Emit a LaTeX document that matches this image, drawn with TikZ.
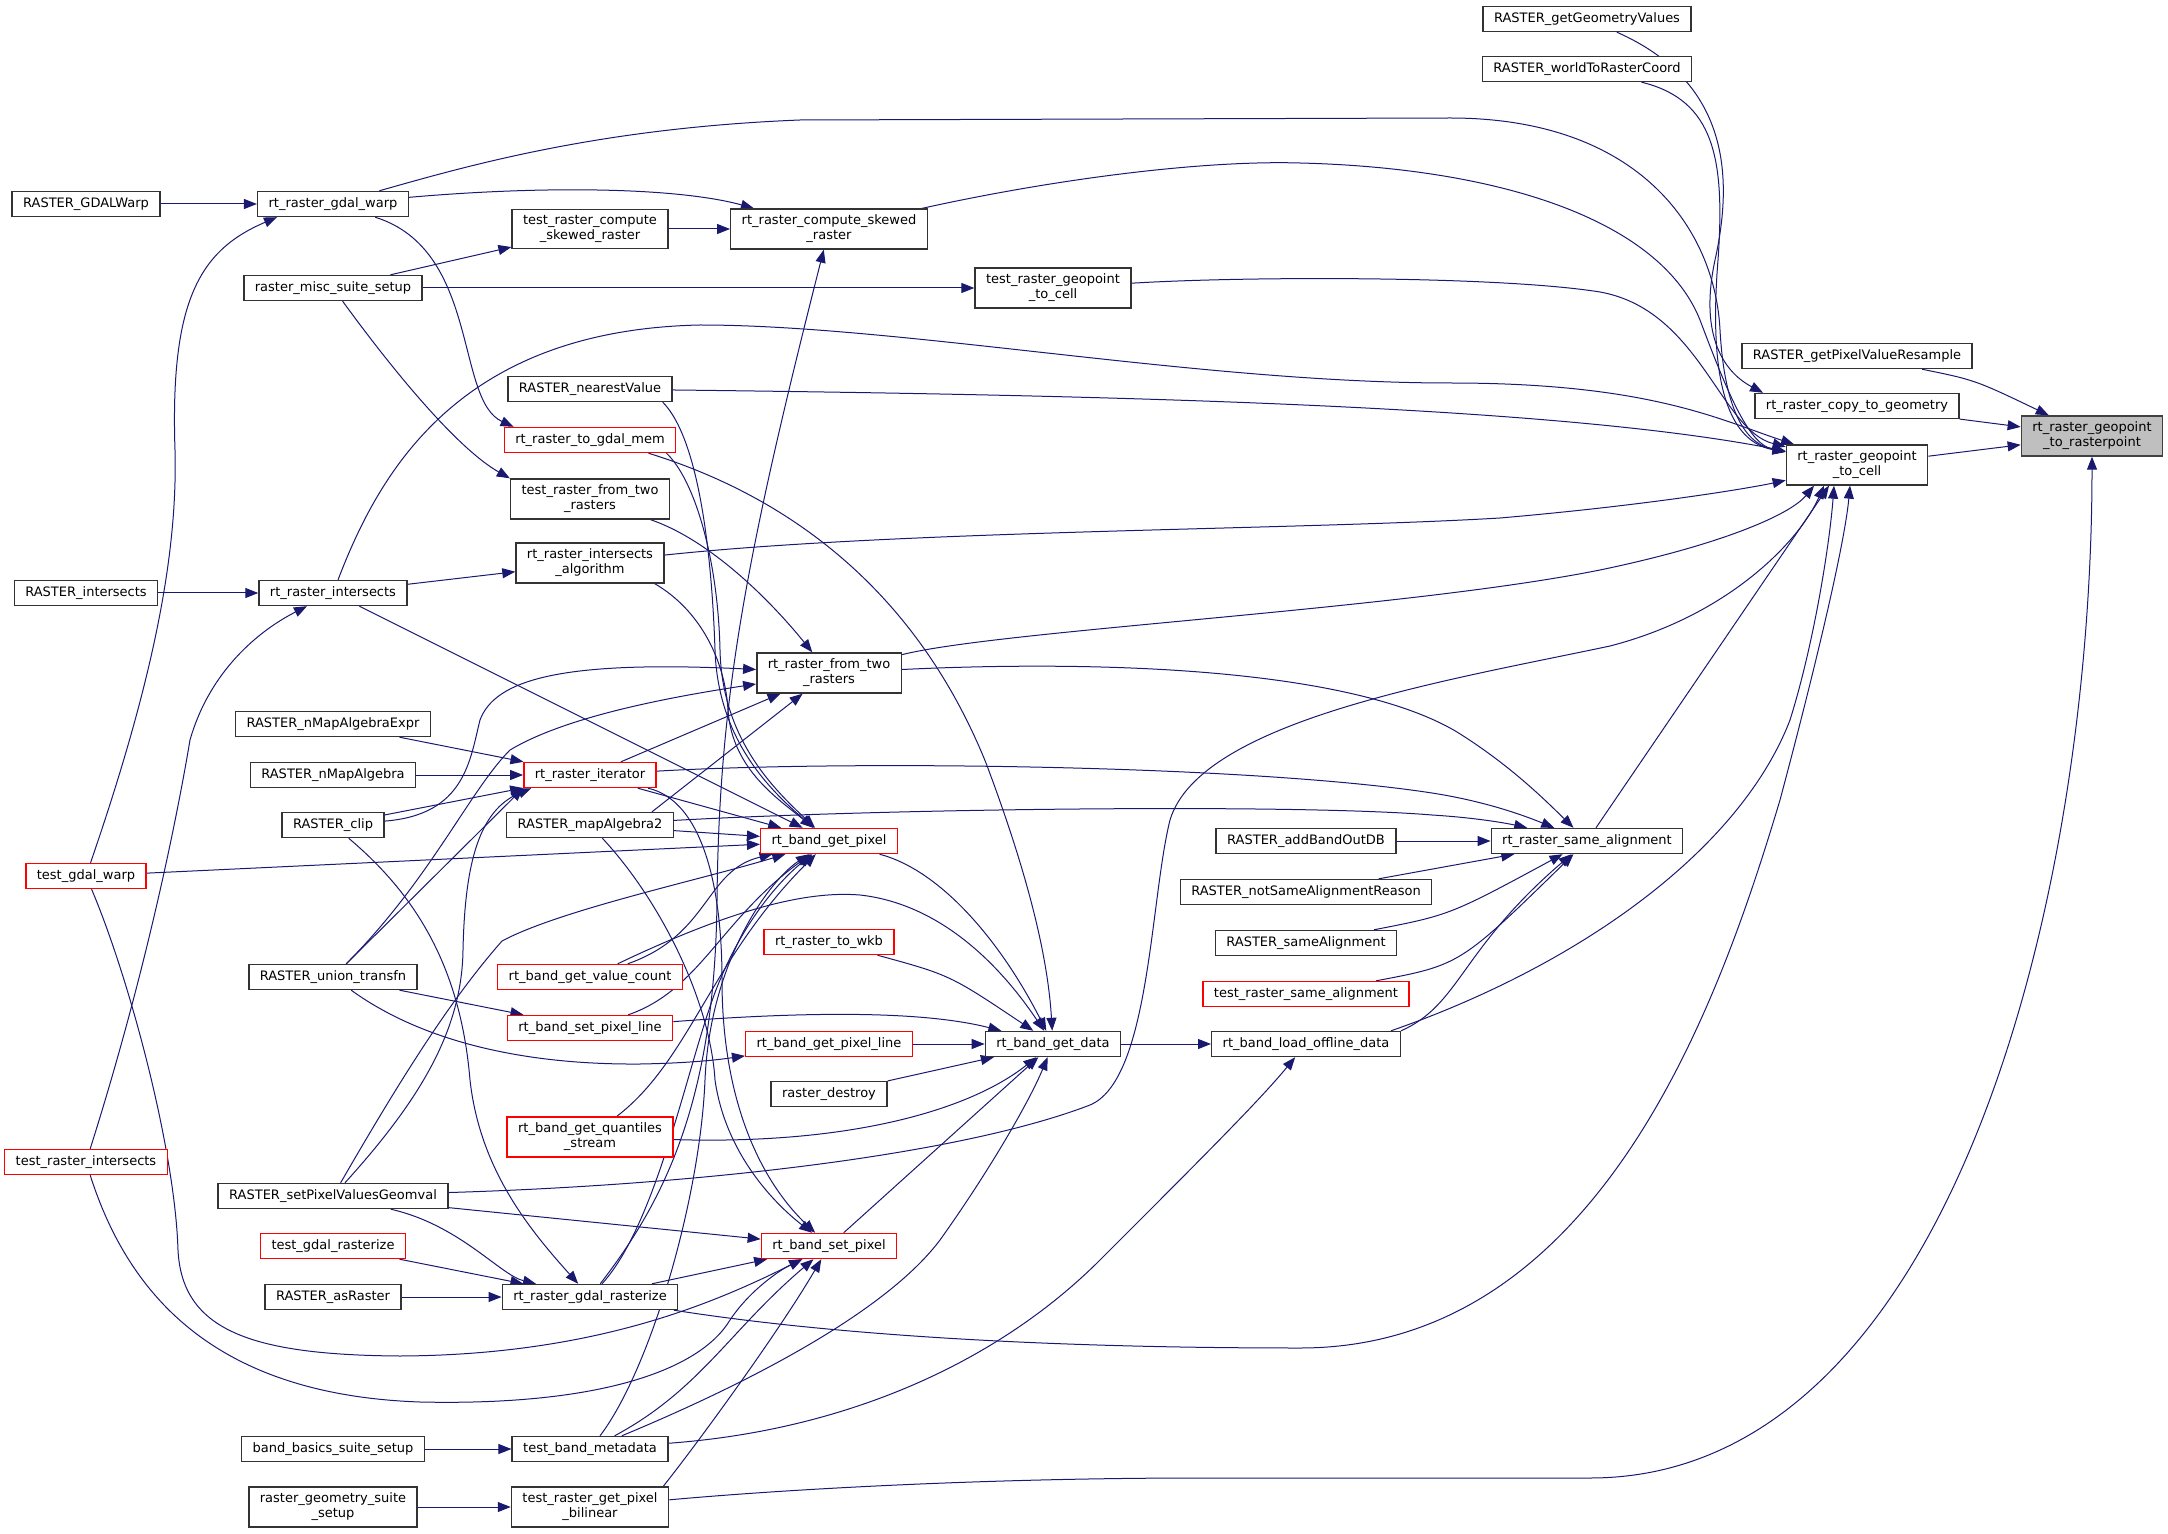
\documentclass[tikz,border=0pt]{standalone}
\usepackage{fontspec}
\setmainfont{DejaVu Sans}
\usepackage{tikz}
\usetikzlibrary{arrows.meta,backgrounds}
\definecolor{edgeblue}{RGB}{25,25,112}
\definecolor{selgray}{RGB}{191,191,191}

\begin{document}
\begin{tikzpicture}[x=0.5pt,y=-0.5pt,
    fn/.style={draw=black!80, line width=0.7pt, fill=white, font=\fontsize{6.5}{7.5}\selectfont,
      align=center, minimum height=12.5pt, inner xsep=5.5pt, inner ysep=3pt},
    fnred/.style={fn, draw=red},
    fnsel/.style={fn, fill=selgray, draw=black!75},
    call/.style={draw=edgeblue, line width=0.5pt, -{Triangle[length=6.5pt,width=5pt]}}]
\useasboundingbox (0,0) rectangle (2168,1534);

% column 1
\node[fn] (rwarpext) at (86,204) {RASTER\_GDALWarp};
\node[fn] (rinters) at (86,593) {RASTER\_intersects};
\node[fnred] (tgdalwarp) at (86,876) {test\_gdal\_warp};
\node[fnred] (trinters) at (86,1162) {test\_raster\_intersects};
% column 2
\node[fn] (gdalwarp) at (333,204) {rt\_raster\_gdal\_warp};
\node[fn] (miscsetup) at (333,288) {raster\_misc\_suite\_setup};
\node[fn] (intersects) at (333,593) {rt\_raster\_intersects};
\node[fn] (nmaexpr) at (333,724) {RASTER\_nMapAlgebraExpr};
\node[fn] (nma) at (333,775) {RASTER\_nMapAlgebra};
\node[fn] (clip) at (333,825) {RASTER\_clip};
\node[fn] (union) at (333,977) {RASTER\_union\_transfn};
\node[fn] (setgeomval) at (333,1196) {RASTER\_setPixelValuesGeomval};
\node[fnred] (tgdalrast) at (333,1246) {test\_gdal\_rasterize};
\node[fn] (asraster) at (333,1297) {RASTER\_asRaster};
\node[fn] (bbsetup) at (333,1449) {band\_basics\_suite\_setup};
\node[fn] (geomsetup) at (333,1507) {raster\_geometry\_suite\\\_setup};
% column 3
\node[fn] (tskewed) at (590,229) {test\_raster\_compute\\\_skewed\_raster};
\node[fn] (nearest) at (590,389) {RASTER\_nearestValue};
\node[fnred] (togdalmem) at (590,440) {rt\_raster\_to\_gdal\_mem};
\node[fn] (tfromtwo) at (590,499) {test\_raster\_from\_two\\\_rasters};
\node[fn] (intalgo) at (590,563) {rt\_raster\_intersects\\\_algorithm};
\node[fnred] (iterator) at (590,775) {rt\_raster\_iterator};
\node[fn] (mapalg2) at (590,825) {RASTER\_mapAlgebra2};
\node[fnred] (valuecount) at (590,977) {rt\_band\_get\_value\_count};
\node[fnred] (setpixline) at (590,1028) {rt\_band\_set\_pixel\_line};
\node[fnred] (quantiles) at (590,1137) {rt\_band\_get\_quantiles\\\_stream};
\node[fn] (gdalrast) at (590,1297) {rt\_raster\_gdal\_rasterize};
\node[fn] (tbandmeta) at (590,1449) {test\_band\_metadata};
\node[fn] (tbilinear) at (590,1507) {test\_raster\_get\_pixel\\\_bilinear};
% column 4
\node[fn] (skewed) at (829,229) {rt\_raster\_compute\_skewed\\\_raster};
\node[fn] (fromtwo) at (829,673) {rt\_raster\_from\_two\\\_rasters};
\node[fnred] (getpixel) at (829,841) {rt\_band\_get\_pixel};
\node[fnred] (towkb) at (829,942) {rt\_raster\_to\_wkb};
\node[fnred] (getpixline) at (829,1044) {rt\_band\_get\_pixel\_line};
\node[fn] (rdestroy) at (829,1094) {raster\_destroy};
\node[fnred] (setpixel) at (829,1246) {rt\_band\_set\_pixel};
% column 5
\node[fn] (tgeocell) at (1053,288) {test\_raster\_geopoint\\\_to\_cell};
\node[fn] (getdata) at (1053,1044) {rt\_band\_get\_data};
% column 6
\node[fn] (addband) at (1306,841) {RASTER\_addBandOutDB};
\node[fn] (notsame) at (1306,892) {RASTER\_notSameAlignmentReason};
\node[fn] (samealign) at (1306,943) {RASTER\_sameAlignment};
\node[fnred] (tsamealign) at (1306,994) {test\_raster\_same\_alignment};
\node[fn] (offline) at (1306,1044) {rt\_band\_load\_offline\_data};
% column 7
\node[fn] (geomvalues) at (1587,19) {RASTER\_getGeometryValues};
\node[fn] (world) at (1587,69) {RASTER\_worldToRasterCoord};
\node[fn] (sameal) at (1587,841) {rt\_raster\_same\_alignment};
% column 8
\node[fn] (resample) at (1857,356) {RASTER\_getPixelValueResample};
\node[fn] (copygeom) at (1857,406) {rt\_raster\_copy\_to\_geometry};
\node[fn] (geocell) at (1857,465) {rt\_raster\_geopoint\\\_to\_cell};
% column 9
\node[fnsel] (rasterpoint) at (2092,436) {rt\_raster\_geopoint\\\_to\_rasterpoint};

\begin{scope}[on background layer]
% callers of rt_raster_geopoint_to_rasterpoint
\draw[call] (resample) .. controls (1975,380) .. (rasterpoint);
\draw[call] (copygeom) -- (rasterpoint);
\draw[call] (geocell) -- (rasterpoint);
\draw[call] (tbilinear) .. controls (800,1488) and (1000,1478) .. (1200,1478) -- (1590,1478) .. controls (1950,1478) and (2092,900) .. (rasterpoint);
% callers of rt_raster_geopoint_to_cell
\draw[call] (gdalwarp) .. controls (470,165) and (600,128) .. (800,120) -- (1450,118) .. controls (1640,118) and (1715,230) .. (1720,330) .. controls (1725,420) and (1750,445) .. (geocell);
\draw[call] (skewed) .. controls (1050,180) and (1200,160) .. (1300,163) .. controls (1500,168) and (1660,220) .. (1700,320) .. controls (1730,400) and (1750,445) .. (geocell);
\draw[call] (tgeocell) .. controls (1250,276) and (1500,276) .. (1600,292) .. controls (1700,310) and (1720,430) .. (geocell);
\draw[call] (intersects) .. controls (380,470) and (460,330) .. (700,325) .. controls (900,325) and (1200,383) .. (1450,383) .. controls (1650,383) and (1720,420) .. (geocell);
\draw[call] (nearest) .. controls (1100,395) and (1550,405) .. (geocell);
\draw[call] (world) .. controls (1715,100) and (1725,160) .. (1718,260) .. controls (1710,360) and (1720,440) .. (geocell);
\draw[call] (geomvalues) .. controls (1725,80) and (1735,170) .. (1715,260) .. controls (1700,330) and (1720,370) .. (copygeom.172);
\draw[call] (intalgo) .. controls (900,530) and (1300,530) .. (1500,518) .. controls (1650,505) and (1750,488) .. (geocell);
\draw[call] (fromtwo) .. controls (1000,630) and (1400,610) .. (1600,570) .. controls (1720,545) and (1790,515) .. ([xshift=-21.5pt]geocell.south);
\draw[call] (setgeomval) .. controls (700,1185) and (960,1155) .. (1090,1105) .. controls (1150,1080) and (1150,900) .. (1170,820) .. controls (1200,720) and (1450,680) .. (1610,646) .. controls (1730,615) and (1800,540) .. ([xshift=-16.5pt]geocell.south);
\draw[call] (sameal) -- ([xshift=-14pt]geocell.south);
\draw[call] ([xshift=-5pt]offline.north east) .. controls (1580,965) and (1740,850) .. (1790,720) .. controls (1815,640) and (1830,540) .. ([xshift=-11.5pt]geocell.south);
\draw[call] (gdalrast) .. controls (800,1330) and (1000,1348) .. (1300,1348) .. controls (1600,1348) and (1720,1000) .. (1780,800) .. controls (1820,650) and (1845,540) .. ([xshift=-3.5pt]geocell.south);
% callers of rt_raster_same_alignment
\draw[call] (fromtwo) .. controls (1100,660) and (1350,668) .. (1457,732) .. controls (1510,765) and (1545,800) .. (sameal);
\draw[call] (iterator) .. controls (850,760) and (1250,765) .. (1432,793) .. controls (1490,802) and (1530,818) .. (sameal);
\draw[call] (mapalg2) .. controls (900,808) and (1300,804) .. (1432,815) .. controls (1480,818) and (1510,824) .. (sameal);
\draw[call] (addband) -- (sameal);
\draw[call] (notsame) -- (sameal);
\draw[call] (samealign) .. controls (1450,915) .. (sameal);
\draw[call] (tsamealign) .. controls (1460,965) .. (sameal);
\draw[call] (offline.north east) .. controls (1460,1005) and (1460,950) .. (sameal);
% callers of rt_band_get_data
\draw[call] (getdata) -- (offline);
\draw[call] (getpixel) .. controls (940,870) and (1000,940) .. (getdata);
\draw[call] ([xshift=-14pt]togdalmem.south east) .. controls (800,500) and (920,600) .. (986,763) .. controls (1030,880) and (1048,960) .. (getdata);
\draw[call] (valuecount) .. controls (720,915) and (800,890) .. (860,895) .. controls (950,905) and (1010,980) .. (getdata);
\draw[call] (towkb) .. controls (950,975) .. (getdata);
\draw[call] (setpixline) .. controls (800,1012) and (920,1010) .. (getdata);
\draw[call] (getpixline) -- (getdata);
\draw[call] (rdestroy) -- (getdata);
\draw[call] (quantiles) .. controls (850,1145) and (970,1110) .. (getdata);
\draw[call] (setpixel) -- (getdata);
\draw[call] (tbandmeta) .. controls (720,1395) and (880,1320) .. (940,1240) .. controls (990,1170) and (1030,1100) .. (getdata);
% callers of rt_band_get_pixel
\draw[call] (intersects) -- (getpixel);
\draw[call] ([xshift=-5pt]nearest.south east) .. controls (700,440) and (712,560) .. (715,650) .. controls (718,740) and (770,790) .. (getpixel);
\draw[call] ([xshift=-5pt]togdalmem.south east) .. controls (695,480) and (718,560) .. (720,650) .. controls (722,740) and (775,790) .. (getpixel);
\draw[call] ([xshift=-5pt]intalgo.south east) .. controls (700,610) and (725,660) .. (728,710) .. controls (732,770) and (780,800) .. (getpixel);
\draw[call] (iterator) -- (getpixel);
\draw[call] (mapalg2) -- (getpixel);
\draw[call] (tgdalwarp) -- (getpixel);
\draw[call] (setgeomval) .. controls (400,1080) and (450,1000) .. (502,941) .. controls (560,910) and (700,880) .. (getpixel);
\draw[call] (valuecount) .. controls (710,935) and (705,870) .. (getpixel);
\draw[call] (setpixline) .. controls (700,990) and (720,920) .. (getpixel);
\draw[call] (quantiles) .. controls (690,1060) and (710,960) .. (getpixel);
\draw[call] (gdalrast) .. controls (660,1220) and (690,1050) .. (720,980) .. controls (745,920) and (780,880) .. (getpixel);
\draw[call] (tbandmeta) .. controls (650,1370) and (700,1200) .. (705,1080) .. controls (710,960) and (770,880) .. (getpixel);
% callers of rt_raster_compute_skewed_raster
\draw[call] (gdalwarp) .. controls (550,185) and (680,188) .. (skewed);
\draw[call] (tskewed) -- (skewed);
\draw[call] (gdalrast) .. controls (665,1200) and (715,1100) .. (717,900) .. controls (719,700) and (745,560) .. (skewed);
% callers of rt_raster_from_two_rasters
\draw[call] (clip) .. controls (465,815) and (470,760) .. (480,720) .. controls (495,680) and (560,660) .. (fromtwo);
\draw[call] (union) .. controls (430,880) and (470,790) .. (510,750) .. controls (560,720) and (650,700) .. (fromtwo);
\draw[call] (iterator) -- (fromtwo);
\draw[call] ([xshift=31pt]mapalg2.north) -- (fromtwo);
\draw[call] (tfromtwo) .. controls (710,540) and (770,600) .. (fromtwo);
% callers of rt_raster_iterator
\draw[call] (nmaexpr) -- (iterator);
\draw[call] (nma) -- (iterator);
\draw[call] (clip) -- (iterator);
\draw[call] (union) -- (iterator.south west);
\draw[call] (setgeomval) .. controls (420,1100) and (462,1030) .. (463,950) .. controls (465,860) and (480,810) .. ([xshift=4pt]iterator.south west);
% callers of rt_band_set_pixel
\draw[call] (iterator) .. controls (700,800) and (722,880) .. (722,980) .. controls (722,1100) and (760,1180) .. (setpixel);
\draw[call] (mapalg2) .. controls (660,900) and (710,1000) .. (715,1080) .. controls (725,1150) and (770,1200) .. (setpixel);
\draw[call] (setgeomval) -- (setpixel);
\draw[call] (gdalrast) -- (setpixel);
\draw[call] (tgdalwarp) .. controls (130,980) and (175,1150) .. (178,1250) .. controls (182,1330) and (250,1355) .. (400,1356) .. controls (600,1355) and (720,1300) .. (setpixel);
\draw[call] (trinters) .. controls (130,1300) and (220,1395) .. (420,1402) .. controls (600,1406) and (700,1370) .. (730,1320) .. controls (750,1290) and (780,1270) .. (setpixel);
\draw[call] (tbandmeta) .. controls (700,1390) and (730,1330) .. (setpixel);
\draw[call] ([xshift=-3pt]tbilinear.north east) .. controls (700,1440) and (780,1330) .. (setpixel);
% remaining callers
\draw[call] (union) -- (setpixline);
\draw[call] (union) .. controls (420,1040) and (520,1065) .. (640,1064) .. controls (700,1063) and (730,1058) .. (getpixline);
\draw[call] (rinters) -- (intersects);
\draw[call] (intersects) -- (intalgo);
\draw[call] (trinters) .. controls (150,960) and (180,800) .. (190,740) .. controls (210,670) and (260,630) .. (intersects);
\draw[call] (tgdalwarp) .. controls (150,690) and (178,560) .. (175,450) .. controls (170,300) and (200,250) .. ([xshift=-28pt]gdalwarp.south);
\draw[call] (rwarpext) -- (gdalwarp);
\draw[call] (gdalwarp) .. controls (480,250) and (455,400) .. ([xshift=5pt]togdalmem.north west);
\draw[call] (miscsetup) -- (tskewed);
\draw[call] (miscsetup) -- (tgeocell);
\draw[call] (miscsetup) .. controls (400,380) and (460,450) .. (tfromtwo.north west);
\draw[call] (clip) .. controls (410,890) and (460,960) .. (470,1080) .. controls (480,1170) and (530,1230) .. (gdalrast);
\draw[call] (setgeomval) .. controls (460,1225) and (500,1275) .. (gdalrast);
\draw[call] (tgdalrast) -- (gdalrast);
\draw[call] (asraster) -- (gdalrast);
\draw[call] (bbsetup) -- (tbandmeta);
\draw[call] (geomsetup) -- (tbilinear);
\draw[call] (tbandmeta) .. controls (850,1430) and (1000,1360) .. (1100,1260) .. controls (1200,1160) and (1260,1100) .. (offline);
\end{scope}
\end{tikzpicture}
\end{document}
